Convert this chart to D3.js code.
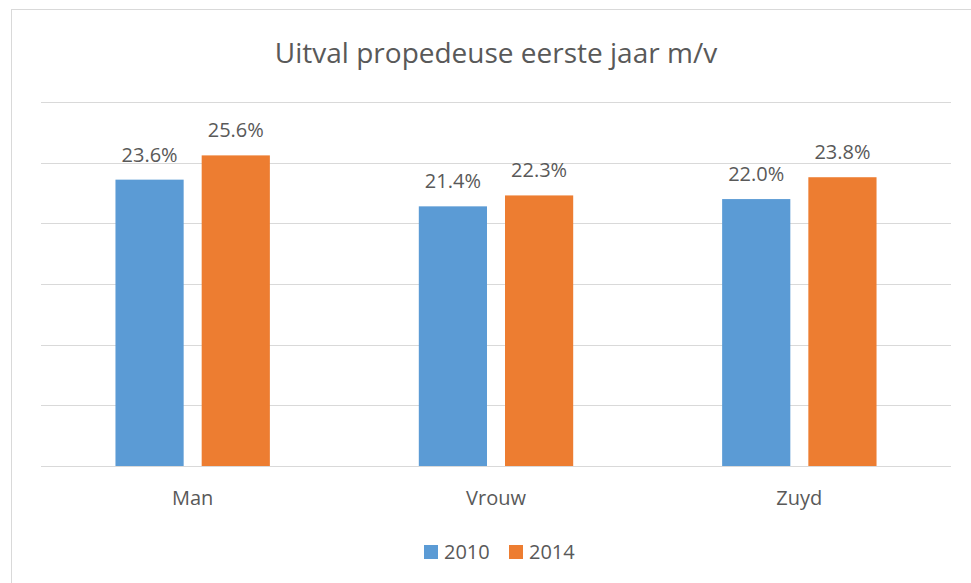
<!DOCTYPE html>
<html>
<head>
<meta charset="utf-8">
<script src="https://cdn.jsdelivr.net/npm/d3@7"></script>
<style>
  body { margin: 0; background: #fff; }
  svg text { font-family: "Open Sans", sans-serif; fill: #595959; }
</style>
</head>
<body>
<svg width="971" height="583"></svg>
<script>
var categories = ["Man", "Vrouw", "Zuyd"];
var series = ["2010", "2014"];
var values2010 = [0.236, 0.214, 0.220];
var values2014 = [0.256, 0.223, 0.238];
var gridTicks = [0, 0.05, 0.10, 0.15, 0.20, 0.25, 0.30];

var svg = d3.select("svg"),
    width = +svg.attr("width"),
    height = +svg.attr("height");

var colors = d3.scaleOrdinal().domain(series).range(["#5b9bd5", "#ed7d31"]);

var data = categories.map(function(c, i) {
    return { cat: c, vals: [
        { s: "2010", v: values2010[i] },
        { s: "2014", v: values2014[i] }
    ] };
});

// chart border
svg.append("rect")
    .attr("x", 11.5).attr("y", 9.5)
    .attr("width", 980).attr("height", 600)
    .attr("fill", "none")
    .attr("stroke", "#d9d9d9");

var plotLeft = 41, plotRight = 951, plotTop = 102, plotBottom = 466;

var x0 = d3.scaleBand()
    .domain(categories)
    .range([plotLeft, plotRight])
    .paddingInner(0.491)
    .paddingOuter(0.2455);

var x1 = d3.scaleBand()
    .domain(series)
    .range([0, x0.bandwidth()])
    .paddingInner(0.209);

var y = d3.scaleLinear().domain([0, 0.30]).range([plotBottom, plotTop]);

// gridlines
svg.append("g")
    .selectAll("line")
    .data(gridTicks)
    .enter().append("line")
    .attr("x1", plotLeft).attr("x2", plotRight)
    .attr("y1", function(d) { return Math.round(y(d)) + 0.5; })
    .attr("y2", function(d) { return Math.round(y(d)) + 0.5; })
    .attr("stroke", "#d9d9d9")
    .attr("stroke-width", 1);

// title
svg.append("text")
    .attr("x", (plotLeft + plotRight) / 2)
    .attr("y", 63)
    .attr("text-anchor", "middle")
    .style("font-size", "28px")
    .text("Uitval propedeuse eerste jaar m/v");

var group = svg.append("g")
    .selectAll("g")
    .data(data)
    .enter().append("g")
    .attr("transform", function(d) { return "translate(" + x0(d.cat) + ",0)"; });

group.selectAll("rect")
    .data(function(d) { return d.vals; })
    .enter().append("rect")
    .attr("x", function(d) { return x1(d.s); })
    .attr("y", function(d) { return y(d.v); })
    .attr("width", x1.bandwidth())
    .attr("height", function(d) { return y(0) - y(d.v); })
    .attr("fill", function(d) { return colors(d.s); });

group.selectAll("text")
    .data(function(d) { return d.vals; })
    .enter().append("text")
    .attr("x", function(d) { return x1(d.s) + x1.bandwidth() / 2; })
    .attr("y", function(d) { return y(d.v) - 18; })
    .attr("text-anchor", "middle")
    .style("font-size", "20px")
    .text(function(d) { return d3.format(".1%")(d.v); });

// category labels
svg.append("g")
    .selectAll("text")
    .data(categories)
    .enter().append("text")
    .attr("x", function(d) { return x0(d) + x0.bandwidth() / 2; })
    .attr("y", 505)
    .attr("text-anchor", "middle")
    .style("font-size", "20px")
    .text(function(d) { return d; });

// legend
var legend = svg.append("g")
    .selectAll("g")
    .data(series)
    .enter().append("g")
    .attr("transform", function(d, i) { return "translate(" + (424 + i * 85) + ",545)"; });

legend.append("rect")
    .attr("width", 14).attr("height", 14)
    .attr("fill", function(d) { return colors(d); });

legend.append("text")
    .attr("x", 20)
    .attr("y", 14)
    .style("font-size", "20px")
    .text(function(d) { return d; });
</script>
</body>
</html>
